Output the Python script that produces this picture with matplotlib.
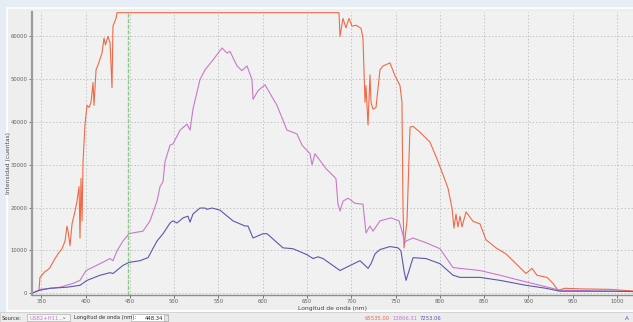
import matplotlib
matplotlib.use("Agg")
import matplotlib.pyplot as plt
from matplotlib.patches import Rectangle

# espectros (nm, cuentas)
rojo_nm = [347.5, 348.6, 354.3, 356.5, 359.9, 365.6, 369.0, 373.5, 376.9, 379.1, 380.3, 382.5,
           384.8, 388.2, 390.4, 392.7, 393.8, 394.9, 396.1, 397.2, 399.4, 401.7, 404.0, 406.2,
           408.5, 409.6, 411.9, 414.1, 418.6, 420.9, 422.5, 425.4, 427.7, 429.9, 431.0, 434.4,
           435.6, 686.1, 687.3, 690.6, 694.0, 697.4, 700.8, 705.3, 711.0, 713.2, 715.5, 716.6,
           718.9, 721.1, 722.3, 724.5, 727.9, 732.4, 735.8, 743.7, 749.3, 755.0, 757.2, 758.4,
           759.5, 762.9, 766.3, 769.7, 777.6, 788.8, 796.7, 803.5, 809.2, 813.7, 815.9, 818.2,
           820.4, 822.7, 825.0, 829.5, 837.4, 845.3, 852.0, 863.3, 874.6, 885.9, 897.2, 904.0,
           909.6, 920.9, 927.7, 933.3, 941.2, 961.5, 992.0, 1018.0]
rojo_cts = [700, 3700, 5100, 5300, 6000, 8100, 9200, 10400, 12200, 15700, 14500, 11100,
            16200, 19200, 21500, 24900, 12900, 26800, 16900, 30700, 39300, 43900, 43400, 44600,
            49200, 43900, 52200, 53300, 56100, 59600, 58000, 60000, 58500, 48000, 62400, 64200,
            65535, 65535, 60000, 64200, 62000, 64200, 62400, 62600, 61900, 59600, 44600, 48500,
            39300, 51000, 44600, 43000, 43400, 52200, 53100, 53800, 50800, 48500, 44600, 20000,
            10600, 16900, 38800, 39000, 37600, 35300, 31400, 27700, 24500, 19900, 15200, 18500,
            15500, 18000, 15500, 19000, 16800, 16200, 12500, 10600, 9200, 6900, 4600, 5800,
            4200, 3700, 2300, 700, 1150, 1000, 900, 500]

rosa_nm = [339.6, 348.6, 371.2, 385.9, 393.8, 400.6, 416.4, 427.7, 431.0, 435.6, 442.3, 449.1,
           453.6, 464.9, 472.8, 480.7, 484.1, 487.5, 489.7, 495.4, 498.8, 506.7, 514.6, 518.0,
           521.3, 529.2, 534.9, 543.9, 554.1, 559.7, 563.1, 571.0, 576.6, 582.3, 587.9, 589.1,
           594.7, 602.6, 616.1, 627.4, 634.2, 638.7, 644.4, 653.4, 655.7, 659.0, 671.5, 682.7,
           685.0, 687.3, 690.6, 696.3, 698.5, 704.2, 713.2, 716.6, 721.1, 724.5, 732.4, 744.8,
           753.9, 757.2, 760.6, 761.8, 769.7, 784.3, 800.1, 814.8, 822.7, 845.3, 867.9, 890.4,
           913.0, 935.6, 995.4, 1018.0]
rosa_cts = [0, 900, 1400, 2300, 3000, 5300, 6900, 8100, 7600, 9900, 12200, 13900,
            14100, 14500, 16900, 21500, 24900, 26100, 30700, 34600, 34900, 38100, 39500, 38100,
            43000, 49900, 52200, 54500, 57300, 56100, 56500, 53100, 52000, 53100, 49900, 45300,
            47300, 48700, 43900, 38100, 37600, 37200, 34600, 32600, 30000, 32600, 29100, 26800,
            20800, 19200, 21500, 22200, 21900, 21000, 20800, 14100, 15700, 14500, 16900, 17600,
            16900, 14500, 11800, 12200, 12900, 11800, 10400, 6000, 5800, 5300, 4200, 3000,
            1850, 700, 460, 400]

azul_nm = [339.6, 348.6, 359.9, 379.1, 393.8, 401.7, 416.4, 427.7, 431.0, 442.3, 449.1, 461.5,
           470.5, 480.7, 487.5, 495.4, 498.8, 503.3, 510.1, 515.7, 518.0, 521.3, 529.2, 534.9,
           537.1, 542.8, 551.8, 566.5, 580.0, 583.4, 589.1, 600.3, 604.9, 622.9, 634.2, 650.0,
           656.8, 662.4, 668.1, 687.3, 694.0, 709.8, 715.5, 718.9, 722.3, 726.8, 732.4, 743.7,
           752.7, 756.1, 759.5, 761.8, 766.3, 769.7, 784.3, 800.1, 814.8, 822.7, 845.3, 867.9,
           897.2, 919.8, 935.6, 995.4, 1018.0]
azul_cts = [0, 700, 1150, 1400, 1850, 3000, 4200, 4800, 4600, 6500, 7200, 7600,
            8300, 12200, 13900, 16400, 16900, 16400, 17600, 18000, 16600, 18500, 19900, 19900,
            19600, 19900, 19400, 16900, 15700, 15700, 12900, 13900, 13900, 10600, 10400, 9000,
            8100, 8500, 8100, 5300, 6000, 7600, 6500, 5800, 6900, 9200, 10200, 10900,
            10600, 9900, 5300, 3000, 6000, 8300, 8100, 6900, 4200, 3700, 3700, 3000,
            1850, 1150, 460, 460, 400]

cursor_nm = 448.34
cursor_vals = ["65535.00", "13866.31", "7253.06"]
colores = ["#ee6a48", "#c879c8", "#5858b0"]

xticks = list(range(350, 1001, 50))
yticks = list(range(0, 60001, 10000))

W, H = 633, 322
fig = plt.figure(figsize=(W / 100, H / 100), dpi=100, facecolor="#e6edf4")
fig.patches.append(Rectangle((7 / W, 1 - 311 / H), 1, 303 / H, transform=fig.transFigure,
                             facecolor="#efeeee", edgecolor="white", linewidth=1.2, zorder=-2))
fig.patches.append(Rectangle((0, 0), 1, 10 / H, transform=fig.transFigure,
                             facecolor="#ececec", edgecolor="#d0d0d0", linewidth=0.6, zorder=-1))

ax = fig.add_axes([32 / W, 1 - 294.5 / H, 601 / W, 282.5 / H])
ax.set_facecolor("#f2f1f1")

ax.plot(rojo_nm, rojo_cts, color=colores[0], lw=0.8)
ax.plot(rosa_nm, rosa_cts, color=colores[1], lw=0.8)
ax.plot(azul_nm, azul_cts, color=colores[2], lw=0.8)
ax.axvline(cursor_nm, color="#8cc88c", lw=1.0, ls=(0, (3, 1)))

ax.set_xlim(339.6, 1018)
ax.set_ylim(-300, 65700)
ax.set_xticks(xticks)
ax.set_yticks(yticks)
ax.tick_params(labelsize=3.8, colors="#606060", length=2, width=0.6, pad=1.5)
ax.grid(True, color="#c4c4c4", ls=(0, (1.5, 2)), lw=0.7)
for s in ["top", "right"]:
    ax.spines[s].set_visible(False)
ax.spines["left"].set_color("#9c9c9c")
ax.spines["left"].set_linewidth(1.6)
ax.spines["bottom"].set_color("#8c8c8c")
ax.spines["bottom"].set_linewidth(1.0)

ax.set_xlabel("Longitud de onda (nm)", fontsize=4.3, color="#444444", labelpad=1)
ax.set_ylabel("Intensidad (cuentas)", fontsize=4.3, color="#444444")
ax.yaxis.set_label_coords(-21 / 601, 0.465)

# barra inferior
fy = 4 / H
fs = 3.8
fig.text(2 / W, fy, "Source:", fontsize=fs, color="#333333", va="center")
fig.patches.append(Rectangle((27 / W, 1 / H), 43 / W, 7 / H, transform=fig.transFigure,
                             facecolor="#f6f6f6", edgecolor="#b0b0b0", linewidth=0.5))
fig.text(29 / W, fy, "USB2+H11...", fontsize=fs, color="#c879c8", va="center")
fig.text(63 / W, fy, "v", fontsize=3.2, color="#555555", va="center")
fig.text(74 / W, fy, "Longitud de onda (nm):", fontsize=fs, color="#333333", va="center")
fig.patches.append(Rectangle((131 / W, 1 / H), 37 / W, 7 / H, transform=fig.transFigure,
                             facecolor="white", edgecolor="#b0b0b0", linewidth=0.5))
fig.text(163 / W, fy, f"{cursor_nm:.2f}", fontsize=fs, color="#222222", va="center", ha="right")
fig.patches.append(Rectangle((164 / W, 1.5 / H), 4 / W, 6 / H, transform=fig.transFigure,
                             facecolor="#e4e4e4", edgecolor="#a0a0a0", linewidth=0.4))
renderer = fig.canvas.get_renderer()
x0 = 365
for v, c in zip(cursor_vals, colores):
    t = fig.text(x0 / W, fy, v, fontsize=fs, color=c, va="center")
    x0 = t.get_window_extent(renderer).x1 + 2
fig.text(625 / W, fy, "A", fontsize=4, color="#3060a0", va="center")

fig.savefig("out.png", dpi=100, facecolor=fig.get_facecolor())
